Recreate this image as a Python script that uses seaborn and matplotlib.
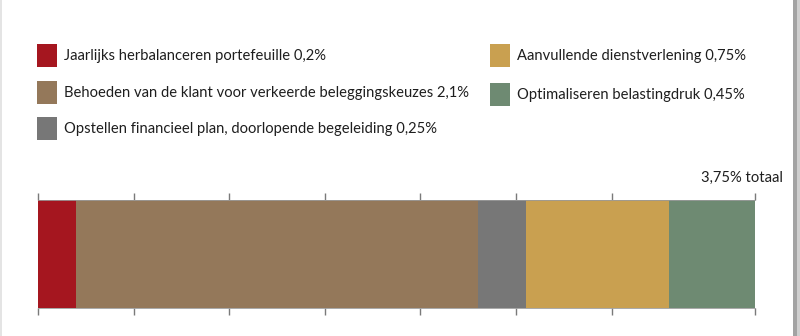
import matplotlib
matplotlib.use("Agg")
import matplotlib.pyplot as plt
import seaborn as sns
import numpy as np
from matplotlib.patches import Rectangle

labels = [
    "Jaarlijks herbalanceren portefeuille 0,2%",
    "Behoeden van de klant voor verkeerde beleggingskeuzes 2,1%",
    "Opstellen financieel plan, doorlopende begeleiding 0,25%",
    "Aanvullende dienstverlening 0,75%",
    "Optimaliseren belastingdruk 0,45%",
]
values = [0.2, 2.1, 0.25, 0.75, 0.45]
colors = ["#A5161F", "#94785A", "#777777", "#C9A050", "#6E8A72"]
tick_values = [0, 0.5, 1.0, 1.5, 2.0, 2.5, 3.0, 3.75]
total_label = "3,75% totaal"

sns.set_theme(style="white")
plt.rcParams["font.family"] = ["Lato", "DejaVu Sans"]

W, H = 800, 336
fig = plt.figure(figsize=(8, 3.36), dpi=100)
fig.patch.set_facecolor("white")

ax = fig.add_axes([38 / W, 1 - 308 / H, (755 - 38) / W, (308 - 200) / H])

ends = np.cumsum(values)
# stacked bar: overlapping cumulative bars, longest first
for i in range(len(values) - 1, -1, -1):
    sns.barplot(x=[ends[i]], y=[0], orient="h", color=colors[i], width=1.0,
                saturation=1, linewidth=0, ax=ax, native_scale=True)

ax.set_xlim(0, sum(values))
ax.set_ylim(-0.5, 0.5)
ax.set_yticks([])
ax.set_xticks(tick_values)
ax.set_xticklabels([])
ax.tick_params(axis="x", which="both", direction="out", length=5, width=1,
               color="#7a7a7a", top=True, bottom=True, labelbottom=False)
for s in ["left", "right"]:
    ax.spines[s].set_visible(False)
for s in ["top", "bottom"]:
    ax.spines[s].set_visible(True)
    ax.spines[s].set_color("#9a9a9a")
    ax.spines[s].set_linewidth(0.6)
ax.set_xlabel("")
ax.set_ylabel("")

# legend (two columns)
fs = 10.6
text_color = "#1e1e1e"
legend_slots = [(37, 44), (37, 81), (37, 117), (490, 44), (490, 83)]
for (lx, ly), lab, col in zip(legend_slots, labels, colors):
    fig.patches.append(Rectangle((lx / W, 1 - (ly + 23) / H), 20 / W, 23 / H,
                                 transform=fig.transFigure, facecolor=col,
                                 edgecolor="none"))
    fig.text((lx + 27) / W, 1 - (ly + 12) / H, lab, ha="left", va="center",
             fontsize=fs, color=text_color)

fig.text(783 / W, 1 - 178 / H, total_label, ha="right", va="center", fontsize=fs,
         color=text_color)

# screenshot frame edges
fig.patches.append(Rectangle((793 / W, 0), 4 / W, 1, transform=fig.transFigure,
                             facecolor="#a3a3a3", edgecolor="none"))
fig.patches.append(Rectangle((797 / W, 0), 3 / W, 1, transform=fig.transFigure,
                             facecolor="#cfcfcf", edgecolor="none"))
fig.patches.append(Rectangle((0, 0), 2 / W, 1, transform=fig.transFigure,
                             facecolor="#e4e4e4", edgecolor="none"))

fig.savefig("out.png", dpi=100)
